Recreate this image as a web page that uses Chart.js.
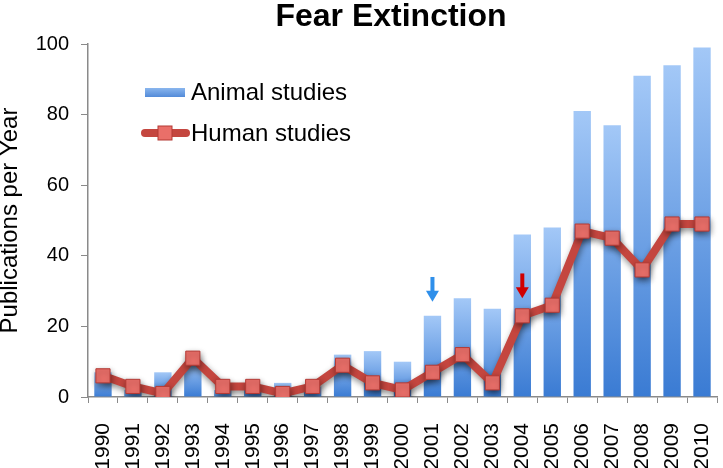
<!DOCTYPE html>
<html>
<head>
<meta charset="utf-8">
<script src="https://cdn.jsdelivr.net/npm/chart.js@4/dist/chart.umd.min.js"></script>
<style>
body{margin:0;background:#fff;}
#wrap{width:723px;height:468px;overflow:hidden;position:relative;}
#inner{width:728px;height:468px;position:relative;}
</style>
</head>
<body>
<div id="wrap"><div id="inner"><canvas id="fearChart"></canvas></div></div>
<script>
// chart data
const years = ["1990","1991","1992","1993","1994","1995","1996","1997","1998","1999","2000",
"2001","2002","2003","2004","2005","2006","2007","2008","2009","2010"];
const animalStudies = [7,2,7,10,2,3,4,3,12,13,10,23,28,25,46,48,81,77,91,94,99];
const humanStudies = [6,3,1,11,3,3,1,3,9,4,2,7,12,4,23,26,47,45,36,49,49];
const yTicks = [0,20,40,60,80,100];

// arrows above 2001 and 2004 (value range from -> to)
const arrowYears = ["2001","2004"];
const arrowFrom = [34,35];
const arrowTo = [27,28];
const arrowColors = ["#2f8fea","#d00000"];

const FONT = "Arial, 'Liberation Sans', sans-serif";
const BAR_TOP = "#a3c8f7";
const BAR_BOTTOM = "#3a7bd3";
const LINE_RED = "#c4463f";
const MARK_FILL = "#ea6f69";
const MARK_EDGE = "#b43a35";

// per bar gradient, light at the top and dark at the base
function barFill(c){
const chart = c.chart;
if(!chart.chartArea || c.type !== "data") return BAR_BOTTOM;
const y = chart.scales.y;
const top = y.getPixelForValue(c.parsed.y);
const base = y.getPixelForValue(0);
if(base - top < 1) return BAR_BOTTOM;
const g = chart.ctx.createLinearGradient(0,top,0,base);
g.addColorStop(0,BAR_TOP);
g.addColorStop(1,BAR_BOTTOM);
return g;
}

// shadow under the human line
const lineShadow = {
id:"lineShadow",
beforeDatasetDraw(chart,args){
if(args.meta.type !== "line") return;
const ctx = chart.ctx;
ctx.save();
ctx.shadowColor = "rgba(0,0,0,0.45)";
ctx.shadowBlur = 6;
ctx.shadowOffsetX = 1;
ctx.shadowOffsetY = 3;
},
afterDatasetDraw(chart,args){
if(args.meta.type !== "line") return;
chart.ctx.restore();
}
};

// title, legend in the plot and the two arrows
const extras = {
id:"extras",
afterDraw(chart){
const ctx = chart.ctx;
const x = chart.scales.x, y = chart.scales.y;

ctx.save();
ctx.fillStyle = "#000";
ctx.font = "bold 32px " + FONT;
ctx.textAlign = "center";
ctx.textBaseline = "alphabetic";
ctx.fillText("Fear Extinction",391,26);

// legend
const ds = chart.data.datasets;
ctx.font = "24px " + FONT;
ctx.textAlign = "left";
ctx.textBaseline = "middle";

const g = ctx.createLinearGradient(0,88,0,98);
g.addColorStop(0,"#8ab6ee");
g.addColorStop(1,"#4d86d6");
ctx.fillStyle = g;
ctx.fillRect(145,88,40,9);
ctx.fillStyle = "#000";
ctx.fillText(ds[1].label,191,93);

ctx.strokeStyle = LINE_RED;
ctx.lineWidth = 8;
ctx.lineCap = "round";
ctx.beginPath();
ctx.moveTo(145,133);
ctx.lineTo(186,133);
ctx.stroke();
ctx.fillStyle = MARK_FILL;
ctx.strokeStyle = MARK_EDGE;
ctx.lineWidth = 1;
ctx.fillRect(158,126,14,14);
ctx.strokeRect(158,126,14,14);
ctx.fillStyle = "#000";
ctx.fillText(ds[0].label,191,134);

// arrows
arrowYears.forEach((yr,i)=>{
const ax = x.getPixelForValue(years.indexOf(yr));
const y0 = y.getPixelForValue(arrowFrom[i]);
const y1 = y.getPixelForValue(arrowTo[i]);
ctx.fillStyle = arrowColors[i];
ctx.fillRect(ax-2,y0,4,(y1-y0)-9);
ctx.beginPath();
ctx.moveTo(ax-6.5,y1-11);
ctx.lineTo(ax+6.5,y1-11);
ctx.lineTo(ax,y1);
ctx.closePath();
ctx.fill();
});

ctx.restore();
}
};

const ctx = document.getElementById("fearChart").getContext("2d");

new Chart(ctx,{
data:{
labels:years,
datasets:[
{
type:"line",
label:"Human studies",
data:humanStudies,
order:0,
borderColor:LINE_RED,
borderWidth:8,
tension:0,
pointStyle:"rect",
pointRadius:10,
pointBackgroundColor:MARK_FILL,
pointBorderColor:MARK_EDGE,
pointBorderWidth:1
},
{
type:"bar",
label:"Animal studies",
data:animalStudies,
order:1,
backgroundColor:barFill,
barPercentage:0.58,
categoryPercentage:1
}
]
},
options:{
responsive:true,
maintainAspectRatio:false,
animation:false,
layout:{padding:{top:44,right:2,left:0,bottom:0}},
plugins:{
legend:{display:false},
title:{display:false},
tooltip:{enabled:false}
},
scales:{
x:{
offset:true,
afterFit:(s)=>{s.height = 71; s.paddingLeft = 0; s.paddingRight = 0;},
border:{display:true,color:"#8a8a8a",width:1.5},
grid:{offset:true,drawOnChartArea:false,drawTicks:true,tickLength:6,color:"#8a8a8a"},
ticks:{
autoSkip:false,
minRotation:90,
maxRotation:90,
padding:20,
color:"#000",
font:{family:FONT,size:21}
}
},
y:{
min:0,
max:100,
afterFit:(s)=>{s.width = 88;},
afterBuildTicks:(s)=>{s.ticks = yTicks.map(v=>({value:v}));},
border:{display:true,color:"#8a8a8a",width:1.5},
grid:{drawOnChartArea:false,drawTicks:true,tickLength:7,color:"#8a8a8a"},
ticks:{
padding:12,
color:"#000",
font:{family:FONT,size:20}
},
title:{
display:true,
text:"Publications per Year",
color:"#000",
padding:0,
font:{family:FONT,size:24,lineHeight:0.85}
}
}
}
},
plugins:[lineShadow,extras]
});
</script>
</body>
</html>
